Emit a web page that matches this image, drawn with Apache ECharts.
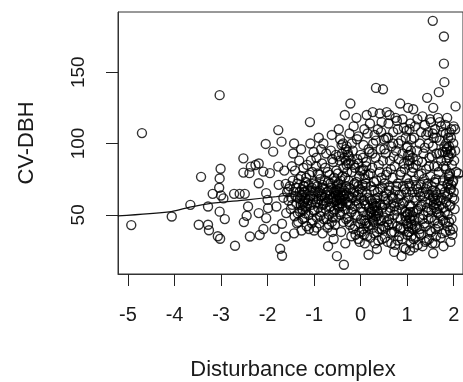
<!DOCTYPE html>
<html><head><meta charset="utf-8">
<script src="https://cdn.jsdelivr.net/npm/echarts@6/dist/echarts.min.js"></script>
<style>html,body{margin:0;padding:0;background:#fff}#c{width:463px;height:382px}</style>
</head><body><div id="c"></div>
<script>
// tick labels
const xTicks = [-5, -4, -3, -2, -1, 0, 1, 2];
const yTicks = [50, 100, 150];
const xTitle = 'Disturbance complex';
const yTitle = 'CV-DBH';

// sparse points, x < -1.5
const leftPoints = [[-4.93,42.8],[-4.70,107.3],[-4.06,48.8],[-3.66,57.0],[-3.43,76.6],[-3.48,43.0],[-3.28,43.0],[-3.26,39.2],[-3.18,64.7],[-3.28,55.8],[-3.03,133.9],[-3.01,82.3],[-3.03,75.5],[-3.04,69.0],[-3.0,63.5],[-2.95,61.5],[-3.03,52.2],[-2.92,47.0],[-3.07,35.0],[-3.02,33.2],[-2.70,28.3],[-2.72,64.7],[-2.60,64.7],[-2.49,64.7],[-2.52,89.6],[-2.52,79.6],[-2.45,49.3],[-2.51,44.9],[-2.42,55.8],[-2.38,34.8],[-2.36,83.8],[-2.26,84.9],[-2.19,86.0],[-2.39,79.2],[-2.19,72.1],[-2.09,80.3],[-2.19,51.2],[-2.17,35.8],[-2.09,40.0],[-2.04,99.7],[-1.88,94.3],[-2.03,65.2],[-2.00,60.5],[-1.95,79.2],[-2.03,47.7],[-1.99,54.7],[-1.77,109.4],[-1.77,83.8],[-1.70,101.3],[-1.85,40.0],[-1.81,55.8],[-1.76,71.0],[-1.73,26.2],[-1.69,21.3],[-1.69,43.7],[-1.64,81.0],[-1.61,71.7],[-1.60,51.2],[-1.61,34.8],[-1.66,62.0],[-1.55,68.0]];

const bandA = [[-1.58,66],[-1.55,60],[-1.52,70],[-1.5,54],[-1.48,84],[-1.45,93],[-1.43,100],[-1.43,37],[-1.4,63],[-1.38,58],[-1.36,72],[-1.35,51],[-1.34,45],[-1.32,88],[-1.31,66],[-1.3,61],[-1.29,57],[-1.28,77],[-1.27,39],[-1.26,68],[-1.25,64],[-1.24,53],[-1.23,70],[-1.22,59],[-1.21,48],[-1.2,66],[-1.19,62],[-1.18,73],[-1.17,55],[-1.16,42],[-1.15,85],[-1.14,67],[-1.13,60],[-1.12,50],[-1.11,40],[-1.1,78],[-1.09,115],[-1.08,100],[-1.07,64],[-1.06,57],[-1.05,69],[-1.04,80],[-1.03,46],[-1.02,61],[-1.01,53],[-1.0,39],[-1.0,72],
 [-1.49,62],[-1.47,57],[-1.46,74],[-1.44,66],[-1.42,49],[-1.41,81],[-1.39,69],[-1.37,44],[-1.35,62],[-1.33,75],[-1.3,52],[-1.28,96],[-1.25,47],[-1.23,83],[-1.19,51],[-1.17,76],[-1.14,58],[-1.12,71],[-1.09,63],[-1.07,88],[-1.05,44],[-1.03,67],[-1.01,94]];

const bandB = [[-0.98,66],[-0.97,58],[-0.96,84],[-0.95,63],[-0.94,48],[-0.93,70],[-0.92,79],[-0.91,55],[-0.9,61],[-0.89,44],[-0.88,67],[-0.87,75],[-0.86,52],[-0.85,96],[-0.84,60],[-0.83,64],[-0.82,71],[-0.81,57],[-0.8,100],[-0.79,47],[-0.78,68],[-0.77,62],[-0.76,83],[-0.75,54],[-0.74,93],[-0.73,59],[-0.72,66],[-0.71,41],[-0.7,28],[-0.7,73],[-0.69,61],[-0.68,50],[-0.67,78],[-0.66,64],[-0.65,56],[-0.64,95],[-0.63,69],[-0.62,45],[-0.61,38],[-0.6,62],[-0.59,87],[-0.58,59],[-0.57,66],[-0.56,53],[-0.55,74],[-0.54,63],[-0.53,48],[-0.52,81],[-0.51,21],[-0.51,60],[-0.5,67],[-0.5,57],
 [-0.99,53],[-0.97,71],[-0.95,90],[-0.93,59],[-0.91,66],[-0.89,78],[-0.87,49],[-0.85,63],[-0.83,86],[-0.81,69],[-0.79,58],[-0.77,74],[-0.75,64],[-0.73,47],[-0.71,80],[-0.69,67],[-0.67,55],[-0.65,72],[-0.63,61],[-0.61,89],[-0.59,52],[-0.57,76],[-0.55,43],[-0.53,92],[-0.51,70]];

const bandC = [[-0.49,64],[-0.48,72],[-0.47,55],[-0.46,62],[-0.45,88],[-0.44,103],[-0.44,66],[-0.43,50],[-0.42,60],[-0.41,69],[-0.4,93],[-0.4,58],[-0.39,77],[-0.38,63],[-0.37,45],[-0.36,15],[-0.36,67],[-0.35,90],[-0.34,120],[-0.34,61],[-0.33,54],[-0.32,96],[-0.31,70],[-0.3,65],[-0.3,85],[-0.29,59],[-0.28,48],[-0.27,92],[-0.26,74],[-0.25,63],[-0.24,107],[-0.23,57],[-0.22,128],[-0.22,68],[-0.21,88],[-0.2,52],[-0.19,80],[-0.18,62],[-0.17,95],[-0.16,40],[-0.15,71],[-0.14,66],[-0.13,56],[-0.12,83],[-0.11,36],[-0.1,60],[-0.09,118],[-0.09,73],[-0.08,103],[-0.07,49],[-0.06,64],[-0.05,33],[-0.05,86],[-0.04,58],[-0.03,77],[-0.02,68],[-0.01,44],[0.0,92],[0.0,55],
 [-0.49,79],[-0.47,91],[-0.45,52],[-0.43,74],[-0.41,99],[-0.39,56],[-0.37,83],[-0.35,64],[-0.33,76],[-0.31,47],[-0.29,80],[-0.27,58],[-0.25,69],[-0.23,43],[-0.21,62],[-0.19,100],[-0.17,54],[-0.15,85],[-0.13,72],[-0.11,50],[-0.09,63],[-0.07,89],[-0.05,70],[-0.03,38],[-0.01,81]];

const bandD = [[0.01,62],[0.02,38],[0.03,81],[0.04,71],[0.05,52],[0.06,99],[0.07,60],[0.08,46],[0.09,30],[0.1,75],[0.11,57],[0.12,87],[0.13,120],[0.13,65],[0.14,50],[0.15,107],[0.16,42],[0.17,22],[0.17,78],[0.18,55],[0.19,94],[0.2,61],[0.21,34],[0.22,70],[0.23,52],[0.24,48],[0.25,83],[0.26,122],[0.26,58],[0.27,100],[0.28,45],[0.29,67],[0.3,53],[0.31,30],[0.32,90],[0.33,139],[0.33,56],[0.34,74],[0.35,49],[0.36,62],[0.37,110],[0.38,51],[0.39,85],[0.4,40],[0.41,121],[0.41,58],[0.42,68],[0.43,96],[0.44,46],[0.45,76],[0.46,33],[0.47,55],[0.48,138],[0.48,88],[0.49,63],[0.5,103],[0.5,48],
 [0.01,47],[0.03,66],[0.05,90],[0.07,36],[0.09,58],[0.11,72],[0.13,44],[0.15,62],[0.17,96],[0.19,51],[0.21,79],[0.23,60],[0.25,93],[0.27,41],[0.29,73],[0.31,61],[0.33,102],[0.35,38],[0.37,66],[0.39,47],[0.41,80],[0.43,57],[0.45,115],[0.47,69],[0.49,42]];

const bandE = [[0.51,72],[0.52,57],[0.53,41],[0.54,93],[0.55,65],[0.56,122],[0.56,52],[0.57,80],[0.58,31],[0.59,60],[0.6,114],[0.61,47],[0.62,70],[0.63,88],[0.64,55],[0.65,37],[0.66,98],[0.67,63],[0.68,44],[0.69,76],[0.7,108],[0.71,58],[0.72,50],[0.73,84],[0.74,29],[0.75,67],[0.76,95],[0.77,53],[0.78,116],[0.79,42],[0.8,72],[0.81,61],[0.82,89],[0.83,35],[0.84,57],[0.85,128],[0.85,78],[0.86,47],[0.87,102],[0.88,21],[0.88,64],[0.89,54],[0.9,93],[0.91,70],[0.92,40],[0.93,111],[0.94,59],[0.95,82],[0.96,49],[0.97,26],[0.98,66],[0.99,97],[1.0,44],[1.0,75],
 [0.51,96],[0.53,61],[0.55,78],[0.57,45],[0.59,104],[0.61,67],[0.63,53],[0.65,82],[0.67,38],[0.69,62],[0.71,91],[0.73,56],[0.75,118],[0.77,70],[0.79,48],[0.81,100],[0.83,64],[0.85,40],[0.87,80],[0.89,33],[0.91,58],[0.93,86],[0.95,68],[0.97,52],[0.99,109]];

const bandF = [[1.01,51],[1.02,125],[1.02,88],[1.03,62],[1.04,38],[1.05,92],[1.06,25],[1.06,70],[1.07,47],[1.08,56],[1.09,103],[1.1,43],[1.1,80],[1.11,66],[1.12,90],[1.13,124],[1.13,52],[1.14,33],[1.15,74],[1.16,46],[1.17,112],[1.18,60],[1.19,85],[1.2,41],[1.21,95],[1.22,68],[1.23,29],[1.24,54],[1.25,78],[1.26,48],[1.27,100],[1.28,63],[1.29,71],[1.3,36],[1.31,57],[1.32,87],[1.33,119],[1.34,66],[1.35,50],[1.36,75],[1.37,44],[1.38,97],[1.39,59],[1.4,68],[1.41,82],[1.42,32],[1.43,132],[1.43,55],[1.44,72],[1.45,108],[1.46,47],[1.47,64],[1.48,90],[1.49,39],[1.5,60],[1.5,77],
 [1.01,98],[1.03,72],[1.05,57],[1.07,114],[1.09,35],[1.11,49],[1.13,83],[1.15,62],[1.17,42],[1.19,70],[1.21,53],[1.23,88],[1.25,66],[1.27,40],[1.29,56],[1.31,79],[1.33,47],[1.35,93],[1.37,63],[1.39,31],[1.41,106],[1.43,70],[1.45,52],[1.47,84],[1.49,117]];

const bandG = [[1.51,115],[1.52,53],[1.53,70],[1.54,30],[1.55,186],[1.55,98],[1.56,125],[1.56,23],[1.56,62],[1.57,57],[1.58,84],[1.59,46],[1.6,110],[1.61,66],[1.62,35],[1.62,75],[1.63,93],[1.64,52],[1.65,60],[1.66,118],[1.67,42],[1.68,136],[1.68,80],[1.69,56],[1.7,102],[1.71,68],[1.72,49],[1.73,88],[1.74,62],[1.75,37],[1.76,94],[1.77,74],[1.78,55],[1.79,175],[1.79,156],[1.8,143],[1.78,28],[1.8,98],[1.81,66],[1.82,45],[1.82,113],[1.83,82],[1.84,59],[1.85,96],[1.86,71],[1.87,50],[1.88,104],[1.88,64],[1.89,90],[1.9,77],[1.91,56],[1.92,39],[1.92,79],[1.93,31],[1.93,95],[1.94,68],[1.95,47],[1.95,110],[1.96,85],[1.97,62],[1.98,73],[1.99,100],[2.0,66],[2.01,88],[2.02,54],[2.03,110],[2.04,126],[2.05,80],[2.1,79],
 [1.51,48],[1.53,91],[1.55,67],[1.57,104],[1.59,73],[1.61,40],[1.63,64],[1.65,84],[1.67,51],[1.69,93],[1.71,60],[1.73,112],[1.75,70],[1.77,46],[1.79,84],[1.81,52],[1.83,107],[1.85,63],[1.87,42],[1.89,78],[1.91,108],[1.93,57],[1.95,93],[1.97,36],[1.99,74],[2.01,61],[2.03,95]];

const clusters = [[-1.27,63],[-1.24,58],[-1.22,66],[-1.2,56],[-1.18,61],[-1.26,54],[-1.21,70],[-0.55,65],[-0.52,60],[-0.48,63],[-0.46,68],[-0.44,58],[-0.42,64],[-0.5,71],[-0.47,56],[-0.53,67],[-0.45,61],[-0.32,88],[-0.28,94],[-0.26,86],[-0.3,98],[-0.25,91],[0.25,54],[0.28,50],[0.3,56],[0.32,49],[0.35,53],[0.27,46],[0.33,58],[0.22,52],[0.05,82],[0.08,78],[0.12,84],[0.1,70],[0.98,46],[1.02,42],[1.05,48],[1.08,44],[1.0,50],[1.03,38],[1.06,52],[1.02,92],[1.06,88],[1.08,95],[1.04,85],[1.58,55],[1.62,58],[1.6,61],[1.64,54],[1.57,63],[1.82,94],[1.86,97],[1.84,100],[1.88,92],[1.85,88],[1.9,98],[1.88,72],[1.92,68],[1.9,75],[1.95,71]];

const lowerPoints = [[-0.95,41],[-0.82,37],[-0.68,43],[-0.58,33],[-0.42,38],[-0.33,30],[-0.2,35],[-0.12,42],[-0.02,31],[0.06,40],[0.14,35],[0.2,43],[0.29,37],[0.38,32],[0.45,40],[0.52,34],[0.6,43],[0.66,30],[0.72,38],[0.8,32],[0.86,41],[0.93,27],[1.0,36],[1.08,30],[1.12,40],[1.18,34],[1.26,37],[1.33,28],[1.4,42],[1.47,33],[1.52,38],[1.6,30],[1.66,44],[1.72,34],[1.83,38],[1.9,45],[1.98,40],[0.35,26],[0.72,24],[1.15,27],[-0.6,48],[-0.25,45],[0.1,44]];

const upperPoints = [[-0.9,104],[-0.62,106],[-0.47,110],[-0.38,100],[-0.15,112],[-0.05,105],[0.08,110],[0.2,114],[0.3,106],[0.44,108],[0.55,104],[0.62,120],[0.7,100],[0.8,110],[0.9,117],[0.97,104],[1.05,110],[1.15,104],[1.22,117],[1.3,108],[1.38,113],[1.46,100],[1.55,107],[1.63,104],[1.7,115],[1.77,108],[1.86,118],[1.94,104],[2.0,112]];

// smoothed trend line
const trendX = [-5.22, -4.07, -3.67, -3.28, -2.45, -1.81, -1.0, 0.0, 1.0, 2.0, 2.2];
const trendY = [49.3, 52.3, 55.4, 57.7, 60.5, 62.8, 66.0, 69.5, 73.5, 76.5, 77.0];

const allPoints = [].concat(leftPoints, bandA, bandB, bandC, bandD, bandE, bandF, bandG, clusters, lowerPoints, upperPoints);
const trend = trendX.map((x, i) => [x, trendY[i]]);

const FONT = 'Liberation Sans, Arial, sans-serif';
const chart = echarts.init(document.getElementById('c'), null, {renderer: 'canvas'});
chart.setOption({
  animation: false,
  backgroundColor: '#fff',
  grid: {left: 118, top: 12, width: 345, height: 262, show: true, borderColor: '#333', borderWidth: 1, backgroundColor: 'transparent'},
  xAxis: {
    type: 'value', min: -5.215, max: 2.2,
    axisLine: {show: true, onZero: false, lineStyle: {color: '#333', width: 1}},
    splitLine: {show: false},
    axisTick: {show: true, length: 12, lineStyle: {color: '#222', width: 1}, customValues: xTicks},
    axisLabel: {customValues: xTicks, fontSize: 20, fontFamily: FONT, color: '#1a1a1a', margin: 31}
  },
  yAxis: {
    type: 'value', min: 8.5, max: 192.2,
    axisLine: {show: true, onZero: false, lineStyle: {color: '#333', width: 1}},
    splitLine: {show: false},
    axisTick: {show: true, length: 12, lineStyle: {color: '#222', width: 1}, customValues: yTicks},
    axisLabel: {customValues: yTicks, fontSize: 19, fontFamily: FONT, color: '#1a1a1a', rotate: 90, margin: 30}
  },
  graphic: [
    {type: 'text', x: 293, y: 370, style: {text: xTitle, font: '22px ' + FONT, fill: '#1a1a1a', textAlign: 'center', textVerticalAlign: 'middle'}},
    {type: 'text', x: 27, y: 143, rotation: Math.PI / 2, style: {text: yTitle, font: '22px ' + FONT, fill: '#1a1a1a', textAlign: 'center', textVerticalAlign: 'middle'}}
  ],
  series: [
    {type: 'scatter', data: allPoints, symbol: 'circle', symbolSize: 9,
     itemStyle: {color: 'rgba(0,0,0,0)', borderColor: '#000', borderWidth: 1.4}, silent: true},
    {type: 'line', data: trend, showSymbol: false, smooth: 0.3, lineStyle: {color: '#111', width: 1.2}, silent: true, clip: true}
  ]
});
</script></body></html>
